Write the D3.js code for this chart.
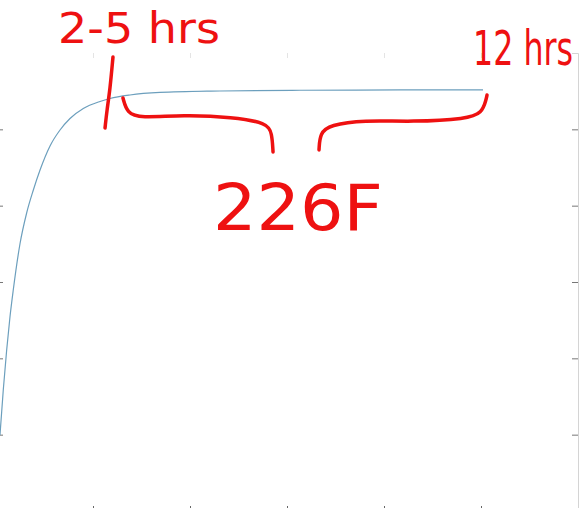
<!DOCTYPE html>
<html>
<head>
<meta charset="utf-8">
<script src="https://d3js.org/d3.v7.min.js"></script>
<style>
  body { margin: 0; background: #fff; }
  svg { display: block; }
</style>
</head>
<body>
<div id="chart"></div>
<script>
// Curve readings (x in axis units, y in axis units)
var hours = [0.041, 0.075, 0.110, 0.144, 0.178, 0.247, 0.316, 0.385, 0.454, 0.557, 0.660, 0.763, 0.900, 1.072, 1.175, 1.381, 1.691, 2.309, 3.134, 4.165, 5.021];
var temps = [0.996, 1.585, 2.109, 2.542, 2.895, 3.498, 3.904, 4.205, 4.467, 4.782, 4.991, 5.142, 5.273, 5.365, 5.404, 5.450, 5.483, 5.502, 5.512, 5.516, 5.518];

// Tick positions (labels are cropped out of the picture)
var xTicks = [1, 2, 3, 4, 5];
var yTicks = [1, 2, 3, 4, 5];

// Hand-drawn red annotations, in axis units
var markStroke = [[1.206, 5.948], [1.175, 5.516], [1.144, 5.254], [1.124, 5.018]];
var leftBrace = [[1.309, 5.411], [1.351, 5.214], [1.485, 5.149], [1.928, 5.188], [2.443, 5.162], [2.794, 5.083], [2.845, 4.952], [2.856, 4.703]];
var rightBrace = [[3.330, 4.730], [3.340, 4.952], [3.443, 5.057], [3.784, 5.122], [4.299, 5.097], [4.856, 5.136], [5.010, 5.214], [5.052, 5.385], [5.062, 5.450]];
var notes = [
  { text: "2-5 hrs", t: 0.639, v: 6.13, size: 42, len: 162, sy: 1 },
  { text: "12 hrs", t: 4.918, v: 5.843, size: 32, len: 100, sy: 1.5 },
  { text: "226F", t: 2.237, v: 3.681, size: 64, len: 170, sy: 1 }
];

var svgWidth = 583;
var svgHeight = 508;

// Plot box runs a little past the left and bottom edges of the picture
var plotLeft = -4, plotRight = 578, plotTop = 53, plotBottom = 511;

var svg = d3.select("#chart")
  .append("svg")
  .attr("width", svgWidth)
  .attr("height", svgHeight);

var x = d3.scaleLinear().domain([0, 6]).range([plotLeft, plotRight]);
var y = d3.scaleLinear().domain([0, 6]).range([plotBottom, plotTop]);

// Right frame with inward ticks
var rightAxis = svg.append("g")
  .attr("transform", `translate(${plotRight}, 0)`)
  .call(d3.axisLeft(y).tickValues(yTicks).tickSize(6).tickFormat(""));
rightAxis.select(".domain").attr("stroke", "#d4d4d4");
rightAxis.selectAll(".tick line").attr("stroke", "#777");

// Left ticks only
var leftAxis = svg.append("g")
  .attr("transform", `translate(${plotLeft}, 0)`)
  .call(d3.axisRight(y).tickValues(yTicks).tickSize(7).tickFormat(""));
leftAxis.select(".domain").remove();
leftAxis.selectAll(".tick line").attr("stroke", "#777");

// Bottom ticks
var bottomAxis = svg.append("g")
  .attr("transform", `translate(0, ${plotBottom})`)
  .call(d3.axisTop(x).tickValues(xTicks).tickSize(5).tickFormat(""));
bottomAxis.select(".domain").remove();
bottomAxis.selectAll(".tick line").attr("stroke", "#666");

// Top ticks, faint
var topAxis = svg.append("g")
  .attr("transform", `translate(0, ${plotTop})`)
  .call(d3.axisBottom(x).tickValues(xTicks).tickSize(5).tickFormat(""));
topAxis.select(".domain").remove();
topAxis.selectAll(".tick line").attr("stroke", "#e4e4e4");

// The curve
var line = d3.line()
  .x(d => x(d[0]))
  .y(d => y(d[1]))
  .curve(d3.curveMonotoneX);

svg.append("path")
  .datum(hours.map((h, i) => [h, temps[i]]))
  .attr("d", line)
  .attr("fill", "none")
  .attr("stroke", "#6c9fbd")
  .attr("stroke-width", 1.2);

// Red ink
var ink = d3.line()
  .x(d => x(d[0]))
  .y(d => y(d[1]))
  .curve(d3.curveBasis);

[markStroke, leftBrace, rightBrace].forEach(function (pts) {
  svg.append("path")
    .datum(pts)
    .attr("d", ink)
    .attr("fill", "none")
    .attr("stroke", "#ee1111")
    .attr("stroke-width", 3.5)
    .attr("stroke-linecap", "round")
    .attr("stroke-linejoin", "round");
});

svg.selectAll(".note")
  .data(notes)
  .enter()
  .append("text")
  .attr("class", "note")
  .attr("transform", d => `translate(${x(d.t)}, ${y(d.v)}) scale(1, ${d.sy})`)
  .attr("textLength", d => d.len)
  .attr("lengthAdjust", "spacingAndGlyphs")
  .style("font-family", "DejaVu Sans, sans-serif")
  .style("font-size", d => d.size + "px")
  .style("fill", "#ee1111")
  .text(d => d.text);
</script>
</body>
</html>
